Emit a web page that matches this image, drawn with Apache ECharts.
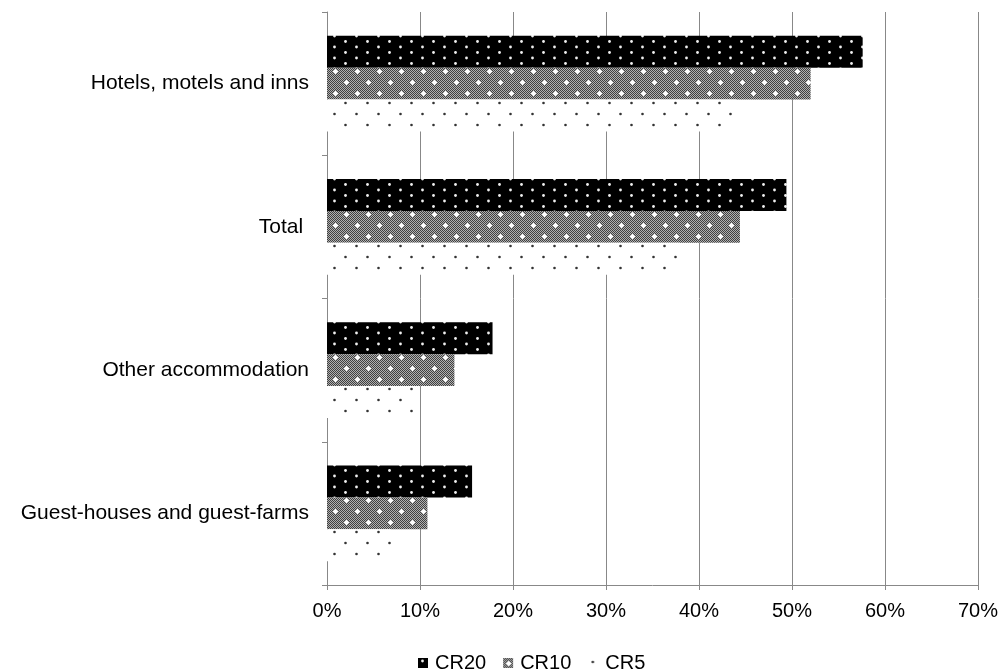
<!DOCTYPE html>
<html>
<head>
<meta charset="utf-8">
<script src="https://cdn.jsdelivr.net/npm/echarts@6/dist/echarts.min.js"></script>
<style>
  html, body { margin: 0; padding: 0; background: #fff; }
  #chart { width: 1001px; height: 670px; }
</style>
</head>
<body>
<div id="chart"></div>
<script>
// Market concentration ratios by accommodation type (share of turnover)
const categories = ['Hotels, motels and inns', 'Total ', 'Other accommodation', 'Guest-houses and guest-farms'];
const seriesNames = ['CR20', 'CR10', 'CR5'];
const cr20 = [57.6, 49.4, 17.8, 15.6];
const cr10 = [52.0, 44.4, 13.7, 10.8];
const cr5 = [44.0, 37.9, 9.6, 6.9];
const xTicks = [0, 10, 20, 30, 40, 50, 60, 70];

// Small tiled canvases used as bar fills
function makeTile(w, h, draw) {
  const c = document.createElement('canvas');
  c.width = w; c.height = h;
  draw(c.getContext('2d'), w, h);
  return c;
}
function dot(ctx, x, y, r, color) {
  ctx.fillStyle = color;
  ctx.beginPath();
  ctx.arc(x, y, r, 0, Math.PI * 2);
  ctx.fill();
}

// black with white dots
const tileCR20 = makeTile(22, 11, (ctx, w, h) => {
  ctx.fillStyle = '#000';
  ctx.fillRect(0, 0, w, h);
  dot(ctx, 4.5, 3, 1.4, '#f0f0f0');
  dot(ctx, 15.5, 8.5, 1.4, '#f0f0f0');
});

// fine grey checker with white sparkles
const tileCR10 = makeTile(22, 22, (ctx, w, h) => {
  for (let y = 0; y < h; y++) {
    for (let x = 0; x < w; x++) {
      ctx.fillStyle = ((x + y) % 2 === 0) ? '#404040' : '#b0b0b0';
      ctx.fillRect(x, y, 1, 1);
    }
  }
  ctx.fillStyle = '#fff';
  [[5, 5], [16, 16]].forEach(([cx, cy]) => {
    ctx.fillRect(cx - 1, cy - 1, 3, 3);
    ctx.fillRect(cx - 2, cy, 5, 1);
    ctx.fillRect(cx, cy - 2, 1, 5);
  });
});

// white with dark dots
const tileCR5 = makeTile(22, 22, (ctx, w, h) => {
  ctx.fillStyle = '#fff';
  ctx.fillRect(0, 0, w, h);
  dot(ctx, 4.5, 4, 1.3, '#333');
  dot(ctx, 15.5, 15, 1.3, '#333');
});

const fills = {
  CR20: { image: tileCR20, repeat: 'repeat' },
  CR10: { image: tileCR10, repeat: 'repeat' },
  CR5: { image: tileCR5, repeat: 'repeat' }
};
const values = { CR20: cr20, CR10: cr10, CR5: cr5 };

const chart = echarts.init(document.getElementById('chart'), null, { renderer: 'canvas' });

chart.setOption({
  animation: false,
  backgroundColor: '#fff',
  textStyle: { fontFamily: 'Liberation Sans, Arial, sans-serif' },
  grid: { left: 327, right: 21, top: 12, bottom: 85, containLabel: false },
  legend: {
    data: seriesNames,
    left: 413,
    top: 648,
    itemWidth: 10,
    itemHeight: 10,
    itemGap: 17,
    icon: 'rect',
    textStyle: { fontSize: 20, color: '#000', padding: [0, 0, 0, 2] }
  },
  xAxis: {
    type: 'value',
    min: 0,
    max: 70,
    interval: 10,
    axisLine: { show: true, lineStyle: { color: '#888', width: 1 } },
    axisTick: { show: true, length: 5, lineStyle: { color: '#888' } },
    axisLabel: {
      fontSize: 20,
      color: '#000',
      margin: 16,
      formatter: v => xTicks.includes(v) ? v + '%' : ''
    },
    splitLine: { show: true, lineStyle: { color: '#888', width: 1 } }
  },
  yAxis: {
    type: 'category',
    data: categories,
    inverse: true,
    axisLine: { show: true, lineStyle: { color: '#888', width: 1 } },
    axisTick: { show: true, length: 5, inside: false, lineStyle: { color: '#888' } },
    axisLabel: { fontSize: 21, color: '#000', margin: 18 },
    splitLine: { show: false }
  },
  series: seriesNames.map(name => ({
    name: name,
    type: 'bar',
    data: values[name],
    barGap: '0%',
    barCategoryGap: '33%',
    itemStyle: { color: fills[name] }
  }))
});
</script>
</body>
</html>
